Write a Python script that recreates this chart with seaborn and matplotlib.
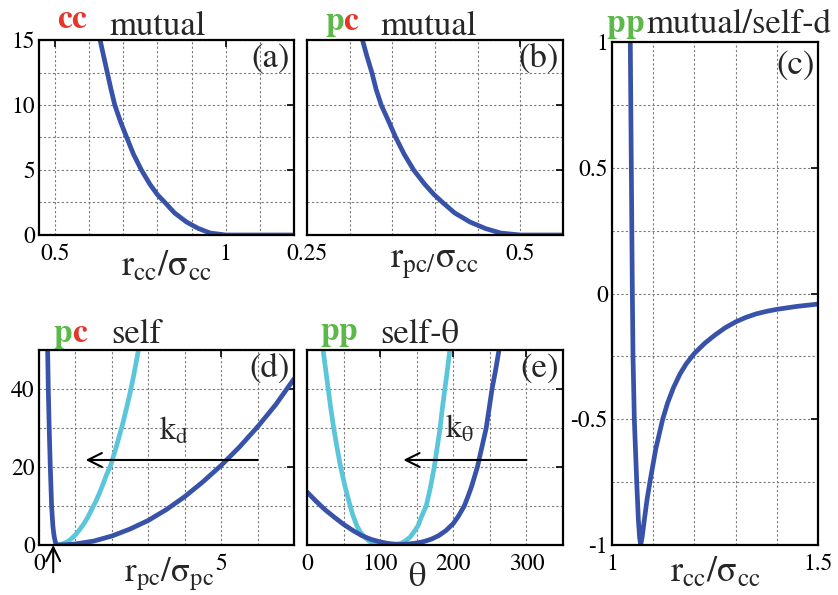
import matplotlib
matplotlib.use("Agg")
import matplotlib.pyplot as plt
from matplotlib.ticker import MultipleLocator, FuncFormatter
import seaborn as sns

# ---- values ----
# (a) cc mutual
a_r = [0.632, 0.642, 0.653, 0.664, 0.675, 0.692, 0.710, 0.730, 0.753, 0.778,
       0.800, 0.822, 0.850, 0.885, 0.920, 0.955, 1.000, 1.200]
a_u = [15.0, 13.8, 12.5, 11.2, 10.0, 8.7, 7.5, 6.2, 5.0, 3.9,
       3.1, 2.5, 1.7, 1.0, 0.5, 0.15, 0.0, 0.0]

# (b) pc mutual
b_r = [0.315, 0.320, 0.326, 0.331, 0.337, 0.346, 0.354, 0.364, 0.375, 0.388,
       0.399, 0.409, 0.423, 0.441, 0.459, 0.477, 0.500, 0.550]
b_u = [15.0, 13.8, 12.5, 11.2, 10.0, 8.7, 7.5, 6.2, 5.0, 3.9,
       3.1, 2.5, 1.7, 1.0, 0.5, 0.15, 0.0, 0.0]

# (c) pp mutual/self-d
c_r = [1.0444, 1.0494, 1.0510, 1.0542, 1.0600, 1.0640, 1.0670, 1.0696, 1.0730,
       1.0785, 1.0850, 1.0920, 1.1060, 1.1230, 1.1350, 1.1490, 1.1650, 1.1800,
       1.2000, 1.2250, 1.2500, 1.2750, 1.3000, 1.3250, 1.3500, 1.3750, 1.4000,
       1.4500, 1.5000]
c_u = [1.00, 0.00, -0.25, -0.50, -0.75, -0.90, -0.97, -1.00, -0.97,
       -0.90, -0.82, -0.75, -0.62, -0.50, -0.435, -0.375, -0.32, -0.28,
       -0.238, -0.198, -0.165, -0.136, -0.113, -0.095, -0.081, -0.071, -0.063,
       -0.051, -0.042]

# (d) pc self
d_r_dark = [0.237, 0.255, 0.280, 0.310, 0.346, 0.380, 0.400, 0.420, 0.450, 0.480,
            0.75, 1.0, 1.5, 2.0, 2.5, 3.0, 3.5, 4.0, 4.5, 5.0, 5.5, 6.0, 6.5, 7.0]
d_u_dark = [50, 40, 30, 20, 10, 5, 3.3, 2, 0.7, 0,
            0.07, 0.27, 1.0, 2.3, 4.1, 6.3, 9.1, 12.4, 16.2, 20.4, 25.1, 30.3, 36.0, 42.6]
d_r_cyan = [0.48, 0.60, 0.70, 0.80, 0.90, 1.00, 1.12, 1.25, 1.35, 1.44, 1.55,
            1.65, 1.75, 1.85, 1.97, 2.10, 2.20, 2.29, 2.40, 2.50, 2.60, 2.70, 2.73]
d_u_cyan = [0, 0.14, 0.46, 0.97, 1.7, 2.6, 4.0, 5.7, 7.3, 9.0, 11.0,
            13.1, 15.4, 17.9, 20.5, 24.5, 27.8, 30.8, 35.0, 39.0, 43.5, 48.5, 50.0]

# (e) pp self-theta
e_t_dark = [0, 12.5, 25, 37.5, 50, 62.5, 75, 87.5, 100, 110, 120, 130, 140, 150,
            160, 170, 180, 190, 200, 207, 215, 220, 225, 229, 233, 239, 245, 249,
            253, 258, 262.5]
e_u_dark = [13.6, 11.2, 9.0, 7.1, 5.3, 3.75, 2.4, 1.45, 0.8, 0.42, 0.22, 0.18, 0.3, 0.5,
            0.9, 1.5, 2.4, 3.7, 5.5, 7.4, 10, 12.4, 15, 17.5, 20, 25, 30, 35,
            40, 45, 50]
e_t_cyan = [22, 25.5, 29, 32.5, 36.5, 41, 46, 52, 59, 63, 68, 73, 79, 85, 92, 100,
            110, 120, 128, 134, 141, 146, 152, 157, 163, 169, 174, 178, 182, 185,
            188.5, 192, 195.3]
e_u_cyan = [50, 45, 40, 35, 30, 25, 20, 15, 10, 7.5, 5, 3.3, 2, 1, 0.35, 0.08,
            0, 0.08, 0.35, 1, 2, 3.3, 5, 7.5, 10, 15, 20, 25, 30, 35,
            40, 45, 50]

DARK = '#3752a8'
CYAN = '#5bc6da'
RED = '#e5362c'
GREEN = '#5db84a'

sns.set_style("white")
# Times-like look: STIX ships with matplotlib
plt.rcParams['font.family'] = ['STIXGeneral', 'DejaVu Serif']
plt.rcParams['mathtext.fontset'] = 'stix'
plt.rcParams['mathtext.default'] = 'rm'
plt.rcParams['axes.unicode_minus'] = False

W, H = 838, 595
fig = plt.figure(figsize=(W / 100, H / 100), dpi=100)
fig.patch.set_facecolor('white')


def add_panel(x0, y0, x1, y1):
    return fig.add_axes([x0 / W, 1 - y1 / H, (x1 - x0) / W, (y1 - y0) / H])


def fmt(v, pos):
    if abs(v) < 1e-9:
        v = 0
    return f"{v:g}"


def style(ax, xlim, ylim, xmaj, xmin, ymaj, ymin, ylabels=True):
    ax.set_xlim(xlim)
    ax.set_ylim(ylim)
    ax.xaxis.set_major_locator(MultipleLocator(xmaj))
    ax.xaxis.set_minor_locator(MultipleLocator(xmin))
    ax.yaxis.set_major_locator(MultipleLocator(ymaj))
    ax.yaxis.set_minor_locator(MultipleLocator(ymin))
    ax.xaxis.set_major_formatter(FuncFormatter(fmt))
    ax.yaxis.set_major_formatter(FuncFormatter(fmt))
    ax.grid(True, which='both', color='#7a7a7a', linestyle=(0, (2, 2)), linewidth=0.8)
    ax.set_axisbelow(True)
    ax.tick_params(which='major', direction='in', length=5, width=1.2,
                   top=True, right=True, labelsize=17, colors='black')
    ax.tick_params(which='minor', length=0)
    ax.tick_params(axis='x', pad=6)
    ax.tick_params(axis='y', pad=3, labelleft=ylabels)
    for s in ax.spines.values():
        s.set_visible(True)
        s.set_linewidth(1.6)
        s.set_color('black')


def tag(ax, x, y, letters, colors):
    t = ax.text(x, y, letters[0], color=colors[0], transform=ax.transAxes,
                fontsize=24, fontweight='bold', va='baseline', ha='left')
    for ch, col in zip(letters[1:], colors[1:]):
        t = ax.annotate(ch, xy=(1, 0), xycoords=t, color=col, fontsize=24,
                        fontweight='bold', va='bottom', ha='left')


def words(ax, x, y, s):
    ax.text(x, y, s, transform=ax.transAxes, fontsize=25, va='baseline', ha='left')


def panel_id(ax, s):
    ax.text(0.985, 0.985, s, transform=ax.transAxes, fontsize=25, ha='right', va='top')


def xlab(ax, x, y, s, size=26):
    ax.text(x, y, s, transform=ax.transAxes, fontsize=size, ha='center', va='top')


def curve(ax, x, y, color):
    sns.lineplot(x=x, y=y, ax=ax, color=color, lw=3.4, sort=False, estimator=None)


arrow = dict(arrowstyle='->, head_length=1.0, head_width=0.5', color='black',
             lw=1.5, shrinkA=0, shrinkB=0)

ax_a = add_panel(39, 40, 294, 235)
ax_b = add_panel(307, 40, 563, 235)
ax_c = add_panel(612, 42, 818, 545)
ax_d = add_panel(39, 350, 294, 545)
ax_e = add_panel(307, 350, 563, 545)

# (a)
curve(ax_a, a_r, a_u, DARK)
style(ax_a, (0.453, 1.2), (0, 15), 0.5, 0.1, 5, 2.5)
tag(ax_a, 0.07, 1.06, 'cc', [RED, RED])
words(ax_a, 0.278, 1.026, 'mutual')
panel_id(ax_a, '(a)')
xlab(ax_a, 0.5, -0.075, r'$r_{cc}/\sigma_{cc}$')

# (b)
curve(ax_b, b_r, b_u, DARK)
style(ax_b, (0.25, 0.55), (0, 15), 0.25, 0.05, 5, 2.5, ylabels=False)
tag(ax_b, 0.07, 1.05, 'pc', [GREEN, RED])
words(ax_b, 0.285, 1.026, 'mutual')
panel_id(ax_b, '(b)')
xlab(ax_b, 0.5, -0.065, r'$r_{pc/}\sigma_{cc}$')

# (c)
curve(ax_c, c_r, c_u, DARK)
style(ax_c, (1.0, 1.5), (-1, 1), 0.5, 0.1, 0.5, 0.25)
tag(ax_c, -0.026, 1.02, 'pp', [GREEN, GREEN])
words(ax_c, 0.165, 1.017, 'mutual/self-d')
panel_id(ax_c, '(c)')
xlab(ax_c, 0.5, -0.022, r'$r_{cc}/\sigma_{cc}$')

# (d)
curve(ax_d, d_r_cyan, d_u_cyan, CYAN)
curve(ax_d, d_r_dark, d_u_dark, DARK)
style(ax_d, (0, 7), (0, 50), 5, 1, 20, 10)
tag(ax_d, 0.055, 1.043, 'pc', [GREEN, RED])
words(ax_d, 0.285, 1.034, 'self')
panel_id(ax_d, '(d)')
xlab(ax_d, 0.51, -0.055, r'$r_{pc}/\sigma_{pc}$', size=25)
ax_d.annotate('', xy=(1.28, 21.8), xytext=(6.0, 21.8), arrowprops=arrow)
ax_d.text(3.3, 27, r'$k_{d}$', fontsize=23, ha='left', va='baseline')
ax_d.annotate('', xy=(0.39, 0), xytext=(0.39, -7), annotation_clip=False,
              arrowprops=arrow)

# (e)
curve(ax_e, e_t_cyan, e_u_cyan, CYAN)
curve(ax_e, e_t_dark, e_u_dark, DARK)
style(ax_e, (0, 350), (0, 50), 100, 50, 20, 10, ylabels=False)
tag(ax_e, 0.051, 1.05, 'pp', [GREEN, GREEN])
words(ax_e, 0.285, 1.034, 'self-θ')
panel_id(ax_e, '(e)')
xlab(ax_e, 0.43, -0.085, r'$\theta$', size=25)
ax_e.annotate('', xy=(131.7, 21.8), xytext=(300, 21.8), arrowprops=arrow)
ax_e.text(188, 27.5, r'$k_{\theta}$', fontsize=23, ha='left', va='baseline')

fig.savefig('out.png', dpi=100, facecolor='white')
